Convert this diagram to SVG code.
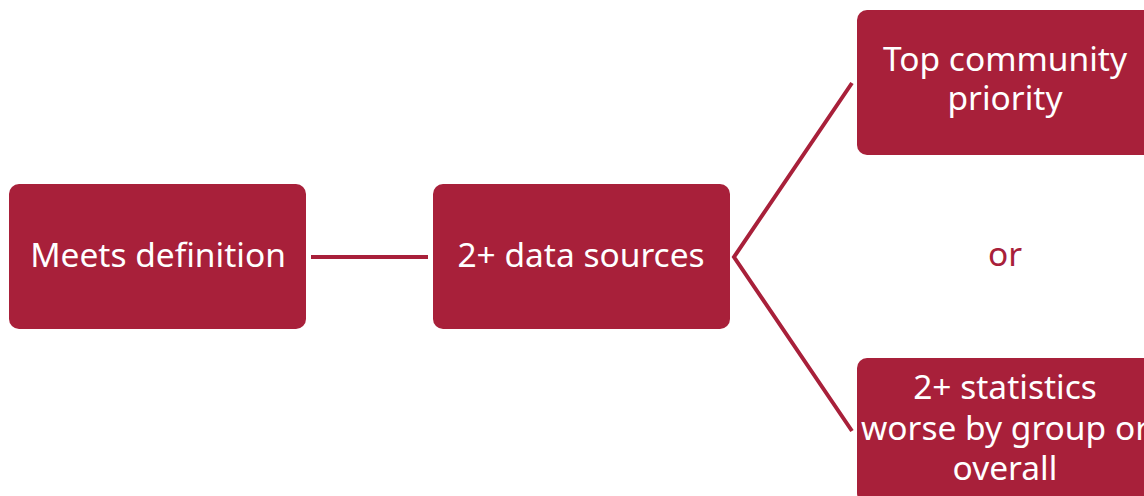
<svg xmlns="http://www.w3.org/2000/svg" width="1144" height="496" viewBox="0 0 1144 496">
<style>
.box{fill:#A8203A;}
.lbl{font-family:"Noto Sans","Open Sans",sans-serif;font-size:33.5px;fill:#FFFFFF;text-anchor:middle;}
.or{font-family:"Noto Sans","Open Sans",sans-serif;font-size:33.5px;fill:#A8203A;text-anchor:middle;}
.conn{stroke:#A8203A;stroke-width:4;fill:none;}
</style>
<rect width="1144" height="496" fill="#FFFFFF"/>
<g id="connectors">
<line class="conn" x1="311" y1="257" x2="428" y2="257"/>
<polyline class="conn" points="852,83 734,257 852,431"/>
</g>
<g id="node-meets">
<rect class="box" x="9" y="184" width="297" height="145" rx="10"/>
<text class="lbl" x="158" y="267">Meets definition</text>
</g>
<g id="node-sources">
<rect class="box" x="433" y="184" width="297" height="145" rx="10"/>
<text class="lbl" x="581" y="267">2+ data sources</text>
</g>
<g id="node-priority">
<rect class="box" x="857" y="10" width="297" height="145" rx="10"/>
<text class="lbl" x="1005" y="71">Top community</text>
<text class="lbl" x="1005" y="110">priority</text>
</g>
<g id="node-or">
<text class="or" x="1005" y="266">or</text>
</g>
<g id="node-statistics">
<rect class="box" x="857" y="358" width="297" height="145" rx="10"/>
<text class="lbl" x="1005" y="399">2+ statistics</text>
<text class="lbl" x="1005" y="440">worse by group or</text>
<text class="lbl" x="1005" y="480">overall</text>
</g>
</svg>
